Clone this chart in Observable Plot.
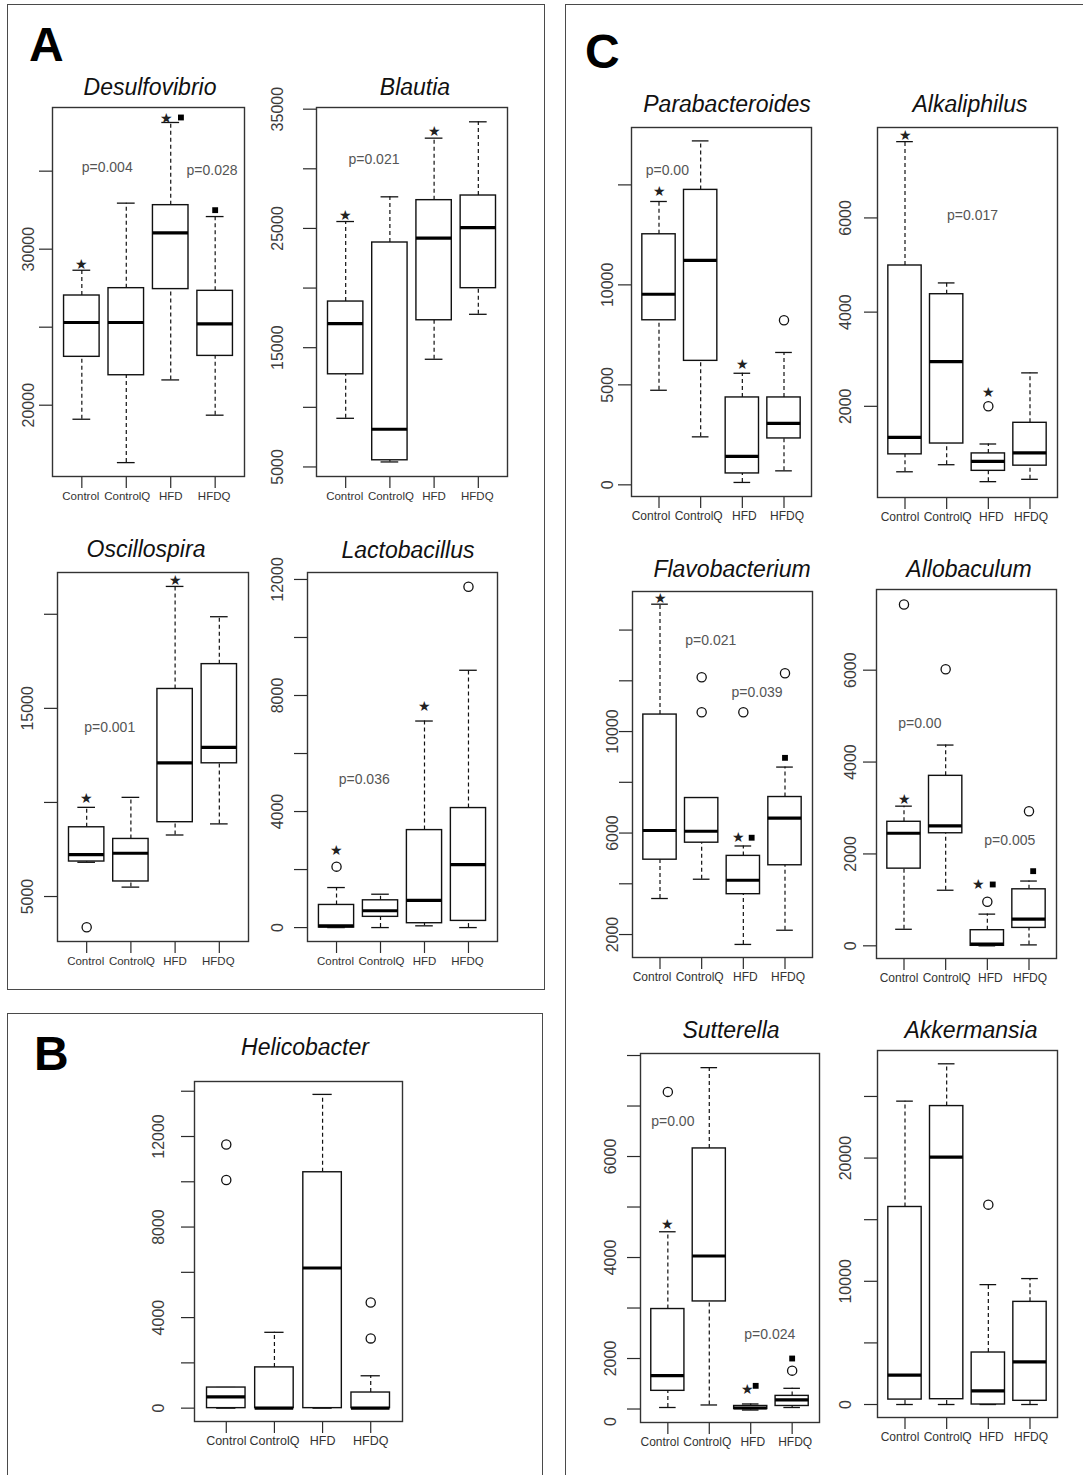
<!DOCTYPE html>
<html>
<head>
<meta charset="utf-8">
<script src="https://cdn.jsdelivr.net/npm/d3@7"></script>
<script src="https://cdn.jsdelivr.net/npm/@observablehq/plot@0.6"></script>
<style>
  html, body { margin: 0; padding: 0; }
  body { width: 1083px; height: 1475px; overflow: hidden; background: #fff; position: relative;
         font-family: "Liberation Sans", Arial, Helvetica, sans-serif; }
  .frame { position: absolute; border: 1.5px solid #4a4a4a; box-sizing: border-box; }
  .letter { position: absolute; font-weight: bold; font-size: 48px; line-height: 48px; color: #000; }
  .title { position: absolute; font-style: italic; font-size: 23px; line-height: 23px; color: #111;
           transform: translateX(-50%); white-space: nowrap; }
</style>
</head>
<body>
<script>
const groups = ["Control", "ControlQ", "HFD", "HFDQ"];

// Each stats row: [lower whisker, Q1, median, Q3, upper whisker] for Control, ControlQ, HFD, HFDQ
const desulfovibrioStats = [[19100, 23100, 25300, 27030, 28650], [16320, 21920, 25300, 27500, 32950], [21620, 27440, 31050, 32820, 38120], [19360, 23160, 25210, 27330, 32090]];
const desulfovibrioOutliers = [];
const desulfovibrioStars = [[1, 29000], [2.9, 38400]];
const desulfovibrioSquares = [[3.23, 38440], [4, 32500]];
const desulfovibrioP = [[1.57, 35235, "p=0.004"], [3.93, 35020, "p=0.028"]];

const blautiaStats = [[9080, 12770, 17020, 18870, 25580], [5420, 5560, 8160, 23820, 27650], [14030, 17300, 24180, 27370, 32570], [17800, 19990, 25070, 27760, 33940]];
const blautiaOutliers = [];
const blautiaStars = [[1, 26050], [3, 33100]];
const blautiaSquares = [];
const blautiaP = [[1.64, 30800, "p=0.021"]];

const oscillospiraStats = [[6820, 6860, 7230, 8680, 9740], [5500, 5800, 7300, 8060, 10270], [8270, 8950, 12100, 16030, 21480], [8860, 12080, 12930, 17350, 19870]];
const oscillospiraOutliers = [[1, 3370]];
const oscillospiraStars = [[1, 10190], [3, 21780]];
const oscillospiraSquares = [];
const oscillospiraP = [[1.52, 13960, "p=0.001"]];

const lactobacillusStats = [[0, 0, 60, 780, 1380], [0, 370, 580, 940, 1150], [60, 150, 940, 3360, 7120], [0, 230, 2170, 4120, 8870]];
const lactobacillusOutliers = [[1, 2100], [4, 11750]];
const lactobacillusStars = [[1, 2670], [3, 7620]];
const lactobacillusSquares = [];
const lactobacillusP = [[1.63, 5090, "p=0.036"]];

const helicobacterStats = [[0, 0, 500, 910, 910], [0, 0, 0, 1800, 3350], [0, 0, 6190, 10420, 13860], [0, 0, 0, 690, 1430]];
const helicobacterOutliers = [[1, 11650], [1, 10080], [4, 4670], [4, 3080]];

const parabacteroidesStats = [[4730, 8230, 9530, 12530, 14170], [2400, 6200, 11230, 14750, 17200], [120, 570, 1420, 4370, 5580], [700, 2320, 3070, 4370, 6620]];
const parabacteroidesOutliers = [[4, 8230]];
const parabacteroidesStars = [[1, 14650], [3, 6030]];
const parabacteroidesP = [[1.2, 15730, "p=0.00"]];

const alkaliphilusStats = [[610, 980, 1340, 4990, 7620], [760, 1210, 2950, 4380, 4620], [400, 630, 830, 1000, 1200], [450, 740, 1010, 1650, 2710]];
const alkaliphilusOutliers = [[3, 2000]];
const alkaliphilusStars = [[1, 7745], [3, 2290]];
const alkaliphilusP = [[2.62, 6060, "p=0.017"]];

const flavobacteriumStats = [[3420, 4950, 6100, 10670, 15020], [4180, 5620, 6070, 7380, 7380], [1610, 3590, 4140, 5100, 5490], [2170, 4730, 6590, 7420, 8600]];
const flavobacteriumOutliers = [[2, 12140], [2, 10760], [3, 10760], [4, 12300]];
const flavobacteriumStars = [[1, 15250], [2.88, 5816]];
const flavobacteriumSquares = [[3.2, 5816], [4, 8964]];
const flavobacteriumP = [[2.22, 13600, "p=0.021"], [3.33, 11550, "p=0.039"]];

const allobaculumStats = [[360, 1680, 2450, 2700, 3040], [1210, 2450, 2610, 3700, 4370], [0, 0, 40, 340, 690], [20, 390, 580, 1230, 1410]];
const allobaculumOutliers = [[1, 7430], [2, 6020], [3, 960], [4, 2930]];
const allobaculumStars = [[1, 3185], [2.78, 1335]];
const allobaculumSquares = [[3.13, 1335], [4.1, 1625]];
const allobaculumP = [[1.38, 4840, "p=0.00"], [3.54, 2300, "p=0.005"]];

const sutterellaStats = [[1030, 1360, 1660, 2980, 4510], [1080, 3130, 4030, 6160, 7760], [980, 1000, 1020, 1060, 1100], [1030, 1060, 1180, 1260, 1410]];
const sutterellaOutliers = [[1, 7280], [4, 1760]];
const sutterellaStars = [[1, 4660], [2.93, 1393]];
const sutterellaSquares = [[3.12, 1459], [4, 2000]];
const sutterellaP = [[1.12, 6700, "p=0.00"], [3.46, 2480, "p=0.024"]];

const akkermansiaStats = [[0, 400, 2380, 16030, 24620], [0, 430, 20080, 24220, 27650], [0, 0, 1110, 4220, 9730], [0, 300, 3460, 8330, 10220]];
const akkermansiaOutliers = [[3, 16220]];

// axis ticks and labels
const desulfovibrioTicks = [20000, 25000, 30000, 35000];
const desulfovibrioLabels = [[20000, "20000"], [30000, "30000"]];
const blautiaTicks = [5000, 10000, 15000, 20000, 25000, 30000, 35000];
const blautiaLabels = [[5000, "5000"], [15000, "15000"], [25000, "25000"], [35000, "35000"]];
const oscillospiraTicks = [5000, 10000, 15000, 20000];
const oscillospiraLabels = [[5000, "5000"], [15000, "15000"]];
const lactobacillusTicks = [0, 2000, 4000, 6000, 8000, 10000, 12000];
const lactobacillusLabels = [[0, "0"], [4000, "4000"], [8000, "8000"], [12000, "12000"]];
const helicobacterTicks = [0, 2000, 4000, 6000, 8000, 10000, 12000, 14000];
const helicobacterLabels = [[0, "0"], [4000, "4000"], [8000, "8000"], [12000, "12000"]];
const parabacteroidesTicks = [0, 5000, 10000, 15000];
const parabacteroidesLabels = [[0, "0"], [5000, "5000"], [10000, "10000"]];
const alkaliphilusTicks = [2000, 4000, 6000];
const alkaliphilusLabels = [[2000, "2000"], [4000, "4000"], [6000, "6000"]];
const flavobacteriumTicks = [2000, 4000, 6000, 8000, 10000, 12000, 14000];
const flavobacteriumLabels = [[2000, "2000"], [6000, "6000"], [10000, "10000"]];
const allobaculumTicks = [0, 2000, 4000, 6000];
const allobaculumLabels = [[0, "0"], [2000, "2000"], [4000, "4000"], [6000, "6000"]];
const sutterellaTicks = [1000, 2000, 3000, 4000, 5000, 6000, 7000, 8000];
const sutterellaLabels = [[750, "0"], [2000, "2000"], [4000, "4000"], [6000, "6000"]];
const akkermansiaTicks = [0, 5000, 10000, 15000, 20000, 25000];
const akkermansiaLabels = [[0, "0"], [10000, "10000"], [20000, "20000"]];

// label nudges (px) for the group names, as laid out in the source figure
const shiftA = [-1, 1, 0, -1];
const shiftCLeft = [-8, -2, 2, 3];
const shiftCRight = [-5, 1, 3, 1];

// layout: frame [left, right, top, bottom] in page pixels
const panels = [
  {title: "Desulfovibrio", stats: desulfovibrioStats, outliers: desulfovibrioOutliers, stars: desulfovibrioStars, squares: desulfovibrioSquares, pvals: desulfovibrioP,
   ticks: desulfovibrioTicks, labels: desulfovibrioLabels, yDomain: [15430, 39080], frame: [52, 244, 107, 476], labelOffset: 19, titleX: 150, titleY: 95, xFont: 11.5, shift: shiftA},
  {title: "Blautia", stats: blautiaStats, outliers: blautiaOutliers, stars: blautiaStars, squares: blautiaSquares, pvals: blautiaP,
   ticks: blautiaTicks, labels: blautiaLabels, yDomain: [4200, 35140], frame: [316, 507, 107, 476], labelOffset: 34, titleX: 415, titleY: 95, xFont: 11.5, shift: shiftA},
  {title: "Oscillospira", stats: oscillospiraStats, outliers: oscillospiraOutliers, stars: oscillospiraStars, squares: oscillospiraSquares, pvals: oscillospiraP,
   ticks: oscillospiraTicks, labels: oscillospiraLabels, yDomain: [2610, 22220], frame: [57, 248, 572, 941], labelOffset: 25, titleX: 146, titleY: 557, xFont: 11.5, shift: shiftA},
  {title: "Lactobacillus", stats: lactobacillusStats, outliers: lactobacillusOutliers, stars: lactobacillusStars, squares: lactobacillusSquares, pvals: lactobacillusP,
   ticks: lactobacillusTicks, labels: lactobacillusLabels, yDomain: [-480, 12240], frame: [307, 497, 572, 941], labelOffset: 25, titleX: 408, titleY: 558, xFont: 11.5, shift: shiftA},
  {title: "Helicobacter", stats: helicobacterStats, outliers: helicobacterOutliers, stars: [], squares: [], pvals: [],
   ticks: helicobacterTicks, labels: helicobacterLabels, yDomain: [-590, 14430], frame: [194, 402, 1081, 1421], labelOffset: 31, titleX: 305, titleY: 1055, xFont: 12.5, shift: [0, 0, 0, 0]},
  {title: "Parabacteroides", stats: parabacteroidesStats, outliers: parabacteroidesOutliers, stars: parabacteroidesStars, squares: [], pvals: parabacteroidesP,
   ticks: parabacteroidesTicks, labels: parabacteroidesLabels, yDomain: [-583, 17870], frame: [631, 811, 127, 496], labelOffset: 19, titleX: 727, titleY: 112, xFont: 12, shift: shiftCLeft},
  {title: "Alkaliphilus", stats: alkaliphilusStats, outliers: alkaliphilusOutliers, stars: alkaliphilusStars, squares: [], pvals: alkaliphilusP,
   ticks: alkaliphilusTicks, labels: alkaliphilusLabels, yDomain: [64, 7920], frame: [877, 1057, 127, 497], labelOffset: 27, titleX: 970, titleY: 112, xFont: 12, shift: shiftCRight},
  {title: "Flavobacterium", stats: flavobacteriumStats, outliers: flavobacteriumOutliers, stars: flavobacteriumStars, squares: flavobacteriumSquares, pvals: flavobacteriumP,
   ticks: flavobacteriumTicks, labels: flavobacteriumLabels, yDomain: [1095, 15520], frame: [632, 812, 591, 957], labelOffset: 15, titleX: 732, titleY: 577, xFont: 12, shift: shiftCLeft},
  {title: "Allobaculum", stats: allobaculumStats, outliers: allobaculumOutliers, stars: allobaculumStars, squares: allobaculumSquares, pvals: allobaculumP,
   ticks: allobaculumTicks, labels: allobaculumLabels, yDomain: [-276, 7756], frame: [876, 1056, 589, 958], labelOffset: 21, titleX: 969, titleY: 577, xFont: 12, shift: shiftCRight},
  {title: "Sutterella", stats: sutterellaStats, outliers: sutterellaOutliers, stars: sutterellaStars, squares: sutterellaSquares, pvals: sutterellaP,
   ticks: sutterellaTicks, labels: sutterellaLabels, yDomain: [733, 8040], frame: [640, 819, 1053, 1422], labelOffset: 25, titleX: 731, titleY: 1038, xFont: 12, shift: shiftCLeft},
  {title: "Akkermansia", stats: akkermansiaStats, outliers: akkermansiaOutliers, stars: [], squares: [], pvals: [],
   ticks: akkermansiaTicks, labels: akkermansiaLabels, yDomain: [-1054, 28730], frame: [877, 1057, 1050, 1417], labelOffset: 27, titleX: 971, titleY: 1038, xFont: 12, shift: shiftCRight}
];

function addDiv(cls, text, left, top, extra) {
  const d = document.createElement("div");
  d.className = cls;
  if (text) d.textContent = text;
  d.style.left = left + "px";
  d.style.top = top + "px";
  Object.assign(d.style, extra || {});
  document.body.appendChild(d);
  return d;
}

// outer panel frames and letters
addDiv("frame", "", 7, 4, {width: "538px", height: "986px"});
addDiv("frame", "", 7, 1013, {width: "536px", height: "480px"});
addDiv("frame", "", 565, 4, {width: "540px", height: "1500px"});
addDiv("letter", "A", 29, 21);
addDiv("letter", "B", 34, 1030);
addDiv("letter", "C", 585, 28);

function draw(cfg) {
  const [L, R, T, B] = cfg.frame;
  const mL = 56, mR = 12, mT = 14, mB = 34;
  const rows = cfg.stats.map((s, i) => ({g: i + 1, low: s[0], q1: s[1], med: s[2], q3: s[3], high: s[4]}));
  const dash = "4,3";
  const groupLabels = groups.map((name, i) =>
    Plot.text([name], {x: i + 1, text: d => d, frameAnchor: "bottom", lineAnchor: "top", dy: 15, dx: cfg.shift[i],
                       fontSize: cfg.xFont, fill: "#333"}));
  const svg = Plot.plot({
    width: R - L + mL + mR,
    height: B - T + mT + mB,
    marginLeft: mL, marginRight: mR, marginTop: mT, marginBottom: mB,
    x: {domain: [0.34, 4.66]},
    y: {domain: cfg.yDomain},
    style: {fontFamily: "'Liberation Sans', Arial, sans-serif", color: "#2a2a2a", background: "transparent", overflow: "visible"},
    marks: [
      Plot.ruleX(rows, {x: "g", y1: "q3", y2: "high", stroke: "#111", strokeWidth: 1.2, strokeDasharray: dash}),
      Plot.ruleX(rows, {x: "g", y1: "low", y2: "q1", stroke: "#111", strokeWidth: 1.2, strokeDasharray: dash}),
      Plot.ruleY(rows, {y: "high", x1: d => d.g - 0.2, x2: d => d.g + 0.2, stroke: "#111", strokeWidth: 1.3}),
      Plot.ruleY(rows, {y: "low", x1: d => d.g - 0.2, x2: d => d.g + 0.2, stroke: "#111", strokeWidth: 1.3}),
      Plot.rect(rows, {x1: d => d.g - 0.4, x2: d => d.g + 0.4, y1: "q1", y2: "q3", fill: "white", stroke: "#111", strokeWidth: 1.4}),
      Plot.ruleY(rows, {y: "med", x1: d => d.g - 0.4, x2: d => d.g + 0.4, stroke: "#000", strokeWidth: 3.2}),
      Plot.dot(cfg.outliers, {x: d => d[0], y: d => d[1], r: 4.6, stroke: "#111", strokeWidth: 1.3, fill: "none"}),
      Plot.text(cfg.stars, {x: d => d[0], y: d => d[1], text: () => "★", fontSize: 14, fill: "#222"}),
      Plot.dot(cfg.squares, {x: d => d[0], y: d => d[1], symbol: "square", r: 3.3, fill: "#000", stroke: "none"}),
      Plot.text(cfg.pvals, {x: d => d[0], y: d => d[1], text: d => d[2], fontSize: 14, fill: "#555"}),
      Plot.axisY({ticks: cfg.ticks, tickSize: 13, tickFormat: () => "", label: null, strokeWidth: 1.2}),
      Plot.text(cfg.labels, {y: d => d[0], text: d => d[1], frameAnchor: "left", rotate: -90, dx: -cfg.labelOffset,
                             textAnchor: "middle", lineAnchor: "bottom", fontSize: 16, fill: "#3c3c3c"}),
      Plot.axisX({ticks: [1, 2, 3, 4], tickSize: 12, tickFormat: () => "", label: null, strokeWidth: 1.2}),
      ...groupLabels,
      Plot.frame({stroke: "#333", strokeWidth: 1.4})
    ]
  });
  svg.style.position = "absolute";
  svg.style.left = (L - mL) + "px";
  svg.style.top = (T - mT) + "px";
  svg.style.maxWidth = "none";
  document.body.appendChild(svg);
  addDiv("title", cfg.title, cfg.titleX, cfg.titleY - 19.5);
}

panels.forEach(draw);
</script>
</body>
</html>
